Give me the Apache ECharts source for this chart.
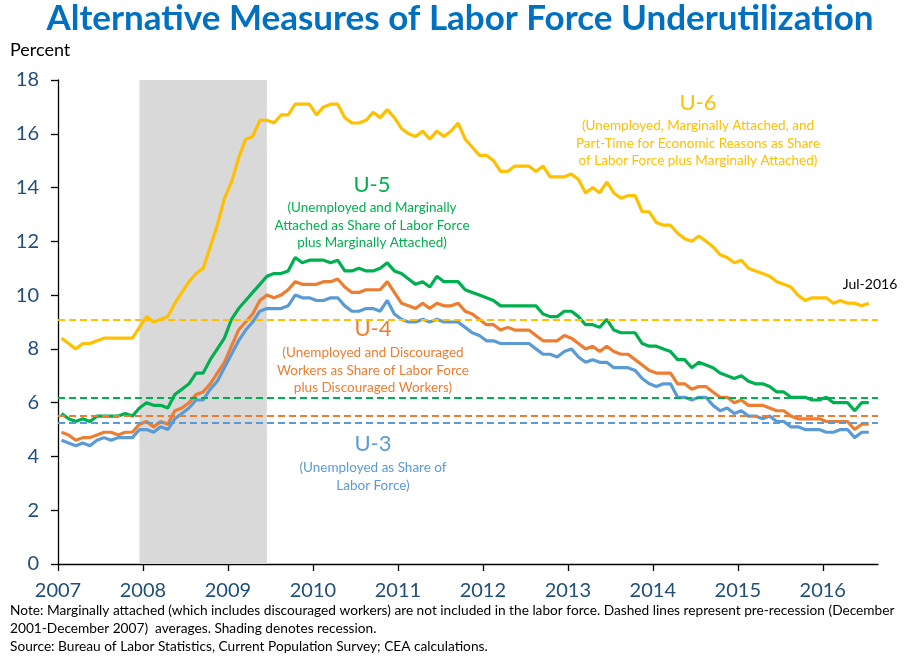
<!DOCTYPE html>
<html>
<head>
<meta charset="utf-8">
<script src="https://cdn.jsdelivr.net/npm/echarts@6/dist/echarts.min.js"></script>
<style>html,body{margin:0;padding:0;background:#fff}#c{width:910px;height:661px}</style>
</head>
<body>
<div id="c"></div>
<script>
// ---- Data (monthly, Jan 2007 - Jul 2016) ----
var startYear = 2007;
var u3 = [
 4.6,4.5,4.4,4.5,4.4,4.6,4.7,4.6,4.7,4.7,4.7,5.0,
 5.0,4.9,5.1,5.0,5.4,5.6,5.8,6.1,6.1,6.5,6.8,7.3,
 7.8,8.3,8.7,9.0,9.4,9.5,9.5,9.5,9.6,10.0,9.9,9.9,
 9.8,9.8,9.9,9.9,9.6,9.4,9.4,9.5,9.5,9.4,9.8,9.3,
 9.1,9.0,9.0,9.1,9.0,9.1,9.0,9.0,9.0,8.8,8.6,8.5,
 8.3,8.3,8.2,8.2,8.2,8.2,8.2,8.0,7.8,7.8,7.7,7.9,
 8.0,7.7,7.5,7.6,7.5,7.5,7.3,7.3,7.3,7.2,6.9,6.7,
 6.6,6.7,6.7,6.2,6.2,6.1,6.2,6.2,5.9,5.7,5.8,5.6,
 5.7,5.5,5.5,5.4,5.5,5.3,5.3,5.1,5.1,5.0,5.0,5.0,
 4.9,4.9,5.0,5.0,4.7,4.9,4.9
];
var u4 = [
 4.9,4.8,4.6,4.7,4.7,4.8,4.9,4.9,4.8,4.9,4.9,5.2,
 5.3,5.1,5.3,5.2,5.7,5.8,6.0,6.3,6.4,6.7,7.1,7.5,
 8.1,8.7,9.0,9.3,9.8,10.0,9.9,10.0,10.2,10.5,10.4,10.4,
 10.4,10.5,10.5,10.6,10.3,10.1,10.1,10.2,10.2,10.2,10.5,10.1,
 9.7,9.6,9.5,9.7,9.5,9.7,9.6,9.6,9.7,9.4,9.3,9.1,
 8.9,8.9,8.7,8.8,8.7,8.7,8.7,8.5,8.3,8.3,8.3,8.5,
 8.4,8.2,8.0,8.1,7.9,8.1,7.9,7.8,7.8,7.6,7.4,7.2,
 7.1,7.1,7.1,6.7,6.7,6.5,6.6,6.6,6.4,6.2,6.2,6.0,
 6.1,5.9,5.9,5.9,5.8,5.7,5.7,5.5,5.4,5.4,5.4,5.4,
 5.3,5.3,5.3,5.3,5.0,5.2,5.2
];
var u5 = [
 5.6,5.4,5.3,5.4,5.3,5.5,5.5,5.5,5.5,5.6,5.5,5.8,
 6.0,5.9,5.9,5.8,6.3,6.5,6.7,7.1,7.1,7.6,8.0,8.4,
 9.1,9.5,9.8,10.1,10.4,10.7,10.8,10.8,10.9,11.4,11.2,11.3,
 11.3,11.3,11.2,11.3,10.9,10.9,11.0,10.9,10.9,11.0,11.2,10.9,
 10.8,10.6,10.4,10.5,10.3,10.7,10.5,10.5,10.5,10.2,10.1,10.0,
 9.9,9.8,9.6,9.6,9.6,9.6,9.6,9.6,9.3,9.2,9.2,9.4,
 9.4,9.2,8.9,8.9,8.8,9.1,8.7,8.6,8.6,8.6,8.2,8.1,
 8.1,8.0,7.9,7.6,7.6,7.3,7.5,7.4,7.3,7.1,7.0,6.9,
 7.0,6.8,6.7,6.7,6.6,6.4,6.4,6.2,6.2,6.2,6.1,6.1,
 6.2,6.0,6.0,6.0,5.7,6.0,6.0
];
var u6 = [
 8.4,8.2,8.0,8.2,8.2,8.3,8.4,8.4,8.4,8.4,8.4,8.8,
 9.2,9.0,9.1,9.2,9.7,10.1,10.5,10.8,11.0,11.8,12.6,13.6,
 14.2,15.1,15.8,15.9,16.5,16.5,16.4,16.7,16.7,17.1,17.1,17.1,
 16.7,17.0,17.1,17.1,16.6,16.4,16.4,16.5,16.8,16.6,16.9,16.6,
 16.2,16.0,15.9,16.1,15.8,16.1,15.9,16.1,16.4,15.8,15.5,15.2,
 15.2,15.0,14.6,14.6,14.8,14.8,14.8,14.6,14.8,14.4,14.4,14.4,
 14.5,14.3,13.8,14.0,13.8,14.2,13.8,13.6,13.7,13.7,13.1,13.1,
 12.7,12.6,12.6,12.3,12.1,12.0,12.2,12.0,11.8,11.5,11.4,11.2,
 11.3,11.0,10.9,10.8,10.7,10.5,10.4,10.3,10.0,9.8,9.9,9.9,
 9.9,9.7,9.8,9.7,9.7,9.6,9.7
];
// Pre-recession (Dec 2001 - Dec 2007) averages
var preAvg = { u3: 5.25, u4: 5.5, u5: 6.2, u6: 9.1 };
var recession = ['2007-12', '2009-06'];
var yearTicks = [2007,2008,2009,2010,2011,2012,2013,2014,2015,2016];
var lastLabel = 'Jul-2016';

// ---- helpers ----
function monthPos(ym) { var p = ym.split('-'); return +p[0] + (+p[1] - 0.5) / 12; }
var months = [];
for (var i = 0; i < u3.length; i++) {
  var y = startYear + Math.floor(i / 12), m = i % 12 + 1;
  months.push(y + '-' + (m < 10 ? '0' + m : m));
}
function pairs(vals) { return vals.map(function (v, i) { return [monthPos(months[i]), v]; }); }

var C = { u3: '#5B9BD5', u4: '#ED7D31', u5: '#00B050', u6: '#FFC000' };
var FONT = 'Lato';

function lineSeries(name, vals, color, avg) {
  return {
    name: name, type: 'line', data: pairs(vals), showSymbol: false, z: 3,
    lineStyle: { color: color, width: 3.2 }, itemStyle: { color: color },
    markLine: {
      silent: true, symbol: 'none', label: { show: false },
      lineStyle: { color: color, type: [7, 4], width: 2 },
      data: [{ yAxis: avg }]
    }
  };
}

function txt(x, y, s, size, color, weight, align) {
  return { type: 'text', x: x, y: y,
    style: { text: s, fill: color, font: (weight || 'normal') + ' ' + size + 'px ' + FONT,
      textAlign: align || 'center', textVerticalAlign: 'middle' } };
}

var chart = echarts.init(document.getElementById('c'));
var graphics = [
  txt(460, 19, 'Alternative Measures of Labor Force Underutilization', 35, '#0070C0', 'bold'),
  txt(10, 50, 'Percent', 18, '#000', 'normal', 'left'),
  txt(698, 103, 'U-6', 22, C.u6),
  txt(698, 126, '(Unemployed, Marginally Attached, and', 13.5, C.u6),
  txt(698, 143.5, 'Part-Time for Economic Reasons as Share', 13.5, C.u6),
  txt(698, 161, 'of Labor Force plus Marginally Attached)', 13.5, C.u6),
  txt(372, 185, 'U-5', 22, C.u5),
  txt(372, 208, '(Unemployed and Marginally', 13.5, C.u5),
  txt(372, 225.5, 'Attached as Share of Labor Force', 13.5, C.u5),
  txt(372, 243, 'plus Marginally Attached)', 13.5, C.u5),
  txt(373, 329, 'U-4', 22, C.u4),
  txt(373, 353, '(Unemployed and Discouraged', 13.5, C.u4),
  txt(373, 370.5, 'Workers as Share of Labor Force', 13.5, C.u4),
  txt(373, 388, 'plus Discouraged Workers)', 13.5, C.u4),
  txt(373, 444, 'U-3', 22, C.u3),
  txt(373, 468, '(Unemployed as Share of', 13.5, C.u3),
  txt(373, 485.5, 'Labor Force)', 13.5, C.u3),
  txt(870, 284, lastLabel, 14, '#000'),
  txt(10, 611, 'Note: Marginally attached (which includes discouraged workers) are not included in the labor force. Dashed lines represent pre-recession (December', 13.7, '#000', 'normal', 'left'),
  txt(10, 629, '2001-December 2007)  averages. Shading denotes recession.', 13.7, '#000', 'normal', 'left'),
  txt(10, 647, 'Source: Bureau of Labor Statistics, Current Population Survey; CEA calculations.', 13.7, '#000', 'normal', 'left')
];

chart.setOption({
  animation: false,
  backgroundColor: '#fff',
  textStyle: { fontFamily: FONT },
  grid: { left: 58, right: 32, top: 80, bottom: 97, containLabel: false },
  xAxis: {
    type: 'value', min: 2007, max: 2016.65,
    axisLine: { show: true, lineStyle: { color: '#000', width: 1.3 } },
    axisTick: { show: true, length: 7, customValues: yearTicks, lineStyle: { color: '#000', width: 1.3 } },
    axisLabel: { customValues: yearTicks, fontSize: 20, color: '#1F4E79', margin: 17, fontFamily: FONT,
      formatter: function (v) { return String(Math.round(v)); } },
    splitLine: { show: false }
  },
  yAxis: {
    type: 'value', min: 0, max: 18, interval: 2,
    axisLine: { show: true, lineStyle: { color: '#000', width: 1.3 } },
    axisTick: { show: true, length: 7, lineStyle: { color: '#000', width: 1.3 } },
    axisLabel: { fontSize: 20, color: '#1F4E79', margin: 19, fontFamily: FONT },
    splitLine: { show: false }
  },
  series: [
    { name: 'Recession', type: 'line', data: [], z: 1, silent: true,
      markArea: { silent: true, itemStyle: { color: '#D9D9D9' },
        data: [[{ xAxis: monthPos(recession[0]), yAxis: 0 }, { xAxis: monthPos(recession[1]), yAxis: 18 }]] } },
    lineSeries('U-6', u6, C.u6, preAvg.u6),
    lineSeries('U-5', u5, C.u5, preAvg.u5),
    lineSeries('U-4', u4, C.u4, preAvg.u4),
    lineSeries('U-3', u3, C.u3, preAvg.u3)
  ],
  graphic: graphics
});
</script>
</body>
</html>
